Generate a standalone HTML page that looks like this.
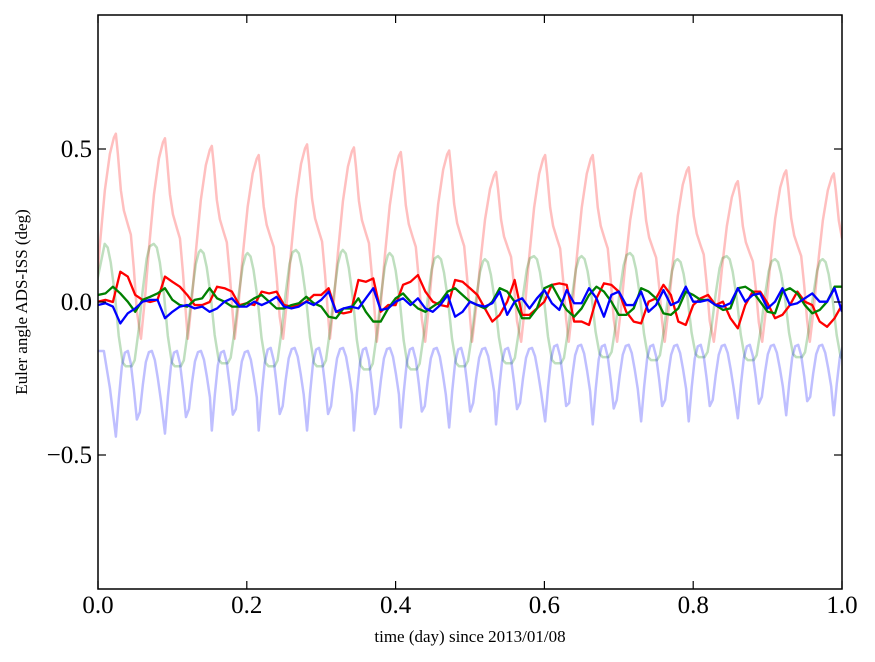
<!DOCTYPE html>
<html><head><meta charset="utf-8"><style>
html,body{margin:0;padding:0;background:#fff;}
svg{display:block;font-family:"Liberation Serif",serif;}
</style></head><body>
<svg id="chart" width="875" height="662" viewBox="0 0 875 662">
<rect x="0" y="0" width="875" height="662" fill="#fff"/>
<g id="plot"></g>
<g id="axes"></g>
<text x="470" y="642" font-size="17" text-anchor="middle">time (day) since 2013/01/08</text>
<text x="0" y="0" font-size="17" text-anchor="middle" transform="translate(27,302) rotate(-90)">Euler angle ADS-ISS (deg)</text>
</svg>
<script>
// ---- data ----
const xTicks = [0.0, 0.2, 0.4, 0.6, 0.8, 1.0];
const xTickLabels = ["0.0", "0.2", "0.4", "0.6", "0.8", "1.0"];
const yTicks = [0.5, 0.0, -0.5];
const yTickLabels = ["0.5", "0.0", "\u22120.5"];
const redPeakT = [.024,.090,.153,.216,.281,.344,.407,.472,.535,.601,.665,.730,.794,.860,.925,.989];
const redPeakV = [.55,.535,.51,.48,.515,.505,.49,.495,.425,.48,.48,.42,.44,.395,.43,.42];
const redTroughV = [-.11,-.12,-.12,-.12,-.12,-.12,-.13,-.13,-.13,-.13,-.13,-.13,-.13,-.13,-.13,-.13];
const greenPeakT = [.009,.075,.138,.201,.266,.329,.392,.457,.520,.586,.650,.715,.779,.845,.910,.974];
const greenPeakV = [.19,.19,.17,.16,.17,.17,.16,.15,.14,.15,.15,.16,.14,.15,.14,.14];
const greenTroughV = [-.21,-.21,-.20,-.21,-.21,-.22,-.22,-.21,-.20,-.20,-.18,-.19,-.18,-.19,-.18,-.19];
const blueLowT = [.024,.090,.153,.216,.281,.344,.407,.472,.535,.601,.665,.730,.794,.860,.925,.989];
const blueDeepV = [-.44,-.43,-.42,-.42,-.42,-.42,-.41,-.41,-.40,-.39,-.40,-.39,-.39,-.38,-.37,-.37];
const blueShallowV = [-.36,-.35,-.35,-.34,-.34,-.34,-.34,-.33,-.33,-.33,-.32,-.32,-.32,-.31,-.31,-.31];
const blueHighV = [-.16,-.16,-.16,-.15,-.15,-.15,-.15,-.15,-.15,-.14,-.14,-.14,-.14,-.14,-.14,-.14];
const timeStep = 0.01;
const redMain = [.001,.007,0,.099,.083,.023,.007,0,.007,.083,.066,.05,.023,-.01,-.01,0,.05,.045,.034,-.01,-.004,-.01,.034,.028,.034,-.01,-.015,-.01,.001,.023,.023,.045,-.032,-.037,-.032,
.072,.066,.077,-.032,-.01,-.01,.056,.066,.088,.034,.001,-.01,-.015,.072,.066,.045,.023,-.021,-.064,-.042,.001,.072,-.042,-.042,-.021,.001,.056,.061,.056,-.064,-.064,-.075,
.012,.061,.056,.034,-.032,-.064,-.07,.001,.012,.056,.023,-.064,-.075,-.01,.012,.023,-.01,.001,-.053,-.086,-.01,.034,.034,-.004,-.053,-.042,-.01,.034,.001,-.01,-.064,-.081,-.053,-.01];
const greenMain = [.023,.028,.05,.028,.001,-.032,.007,.017,.028,.045,.007,-.01,-.015,.007,.012,.045,.012,.001,-.015,-.015,-.004,.012,.023,.001,-.021,-.021,-.01,-.004,.017,-.004,-.015,-.048,-.053,-.021,-.021,
.012,-.032,-.064,-.064,-.021,.012,.028,.001,-.021,-.032,-.015,.001,.034,.045,.023,.001,-.01,-.021,.001,.045,.034,.001,-.053,-.053,-.021,.045,.056,.012,-.026,-.048,-.021,.023,
.05,.034,.001,-.042,-.042,-.021,.045,.034,.012,-.037,-.042,-.021,.034,.023,.007,.007,-.01,-.026,-.021,.045,.05,.034,.001,-.032,-.037,.034,.045,.028,-.01,-.037,-.026,.001,.05,.05];
const blueMain = [-.01,-.004,-.015,-.07,-.037,-.021,.001,.007,.007,-.053,-.032,-.015,-.01,-.021,-.015,-.032,-.021,.001,.012,-.015,-.015,.001,-.01,.001,.017,-.015,-.021,-.015,.001,-.01,.007,.034,-.032,-.021,-.015,
-.021,.012,.045,-.026,-.021,.001,.012,-.01,.012,-.021,-.032,-.01,.023,-.048,-.032,.001,-.01,-.015,-.004,.034,-.042,.001,.012,-.021,.012,.039,-.004,-.026,.039,-.004,-.004,.045,
.012,-.048,.023,.034,-.01,-.01,.034,-.032,-.01,.039,-.01,.001,.05,.001,.001,.007,-.01,-.015,-.004,.045,.001,.023,.028,-.021,.001,.045,-.01,-.004,.012,.028,.001,.001,.045,-.032];

// ---- axes mapping ----
const X0 = 98, X1 = 842, YT = 15, YB = 589;
function sx(t){ return X0 + t * (X1 - X0); }
function sy(v){ return 302 - v * 306; }
const NS = "http://www.w3.org/2000/svg";
const plot = document.getElementById('plot');
const axes = document.getElementById('axes');

function pathFrom(pts){
  return pts.map((p,i)=>(i?'L':'M')+sx(p[0]).toFixed(2)+','+sy(p[1]).toFixed(2)).join('');
}
function addPath(d, color, w, name){
  const p = document.createElementNS(NS,'path');
  p.setAttribute('d', d);
  p.setAttribute('fill','none');
  p.setAttribute('stroke', color);
  p.setAttribute('stroke-width', w);
  p.setAttribute('stroke-linejoin','round');
  
  
  plot.appendChild(p);
}

const defs = document.createElementNS(NS,'defs');
defs.innerHTML = '<clipPath id="pc"><rect x="98" y="15" width="744" height="574"/></clipPath>';
document.getElementById('chart').insertBefore(defs, document.getElementById('chart').firstChild);
plot.setAttribute('clip-path','url(#pc)');

const px = 1/744;
const redShape = [[-24,0],[-20,.2],[-16,.45],[-11,.72],[-6,.9],[-2,.98],[0,1],[2,.9],[5,.72],[8,.62],[12,.55],[15,.5],[18,.33],[21,.12]];
let rp = [];
for (let k=0;k<redPeakT.length;k++){
  for (const s of redShape){
    const tr = redTroughV[k];
    rp.push([redPeakT[k]+s[0]*px, tr + s[1]*(redPeakV[k]-tr)]);
  }
}
rp.push([redPeakT[redPeakT.length-1]+26*px, redTroughV[redTroughV.length-1]]);
addPath(pathFrom(rp), 'rgba(255,0,0,0.25)', 2.5, 'roll-reference-line');

const greenShape = [[0,1],[3,.97],[6,.85],[10,.6],[14,.25],[18,.03],[21,0],[27,0],[30,.05],[34,.3],[38,.62],[42,.88],[45,.98]];
let gp = [[greenPeakT[0]-10*px, greenTroughV[0] + .6*(greenPeakV[0]-greenTroughV[0])]];
for (let k=0;k<greenPeakT.length;k++){
  for (const s of greenShape){
    const tr = greenTroughV[k];
    const pk = (s[0] > 24 && k+1<greenPeakV.length) ? greenPeakV[k+1] : greenPeakV[k];
    gp.push([greenPeakT[k]+s[0]*px, tr + s[1]*(pk-tr)]);
  }
}
addPath(pathFrom(gp), 'rgba(0,128,0,0.25)', 2.5, 'pitch-reference-line');

const blueHalf = [[3,.45],[6,.82],[9,.98],[12,1],[15,.85],[18,.55],[21,.2]];
let bp = [[blueLowT[0]-18*px, blueHighV[0]],[blueLowT[0]-12*px, blueHighV[0]],[blueLowT[0]-6*px, blueHighV[0]-0.12]];
for (let k=0;k<blueLowT.length;k++){
  const h = blueHighV[k];
  bp.push([blueLowT[k], blueDeepV[k]]);
  for (const s of blueHalf) bp.push([blueLowT[k]+s[0]*px, blueDeepV[k] + s[1]*(h-blueDeepV[k])]);
  bp.push([blueLowT[k]+24*px, blueShallowV[k]]);
  for (const s of blueHalf) bp.push([blueLowT[k]+(24+s[0])*px, blueShallowV[k] + s[1]*(h-blueShallowV[k])]);
}
addPath(pathFrom(bp), 'rgba(0,0,255,0.25)', 2.5, 'yaw-reference-line');

function mainPts(arr){ return arr.map((v,i)=>[i*timeStep, v]); }
addPath(pathFrom(mainPts(redMain)), '#ff0000', 2.3, 'roll-line');
addPath(pathFrom(mainPts(greenMain)), '#008000', 2.3, 'pitch-line');
addPath(pathFrom(mainPts(blueMain)), '#0000ff', 2.3, 'yaw-line');

const frame = document.createElementNS(NS,'rect');
frame.setAttribute('x', X0); frame.setAttribute('y', YT);
frame.setAttribute('width', X1-X0); frame.setAttribute('height', YB-YT);
frame.setAttribute('fill','none'); frame.setAttribute('stroke','#000'); frame.setAttribute('stroke-width','1.5');


axes.appendChild(frame);

function line(x1,y1,x2,y2,name){
  const l = document.createElementNS(NS,'line');
  l.setAttribute('x1',x1);l.setAttribute('y1',y1);l.setAttribute('x2',x2);l.setAttribute('y2',y2);
  l.setAttribute('stroke','#000');l.setAttribute('stroke-width','1.2');
  
  
  axes.appendChild(l);
}
function text(x,y,s,anchor,name){
  const t = document.createElementNS(NS,'text');
  t.setAttribute('x',x);t.setAttribute('y',y);t.setAttribute('font-size','25');
  t.setAttribute('text-anchor',anchor);
  t.textContent = s;
  
  
  axes.appendChild(t);
}
xTicks.forEach((t,i)=>{
  const x = sx(t);
  line(x,YB,x,YB-8,'x-tick');
  line(x,YT,x,YT+8,'x-tick-top');
  text(x,613,xTickLabels[i],'middle','x-tick-label');
});
yTicks.forEach((v,i)=>{
  const y = sy(v);
  line(X0,y,X0+8,y,'y-tick');
  line(X1,y,X1-8,y,'y-tick-right');
  text(92,y+8,yTickLabels[i],'end','y-tick-label');
});
</script>
</body></html>
